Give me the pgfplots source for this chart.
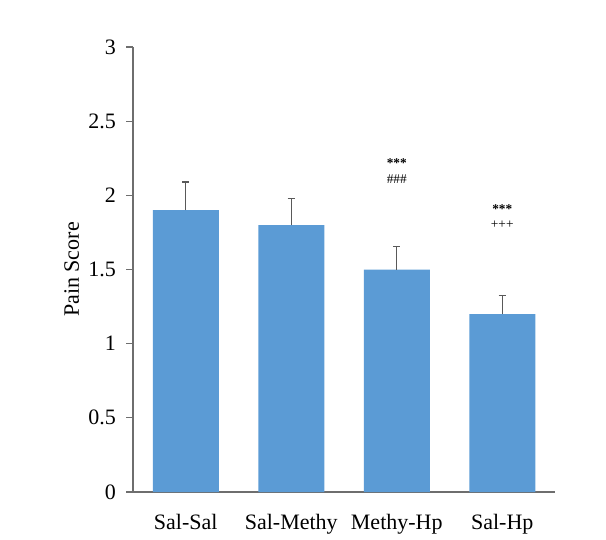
\documentclass[border=0pt]{standalone}
\usepackage{pgfplots}
\pgfplotsset{compat=1.18}
\usepackage{fontspec}
\setmainfont{Liberation Serif}
\definecolor{barblue}{HTML}{5B9BD5}
\definecolor{axisgray}{HTML}{6E6E6E}
\definecolor{errgray}{HTML}{595959}
\begin{document}
\begin{tikzpicture}
    % 1 px of the reference = 0.75pt
    \path[use as bounding box] (0,0) rectangle (454.5pt,404.25pt);
    \begin{axis}[
            at={(99.75pt,35.25pt)},
            anchor=south west,
            scale only axis,
            width=316.5pt,
            height=333.75pt,
            ybar,
            bar width=49.5pt,
            xmin=-0.5, xmax=3.5,
            ymin=0, ymax=3,
            xtick=data,
            xticklabels={Sal-Sal, Sal-Methy, Methy-Hp, Sal-Hp},
            ytick={0,0.5,...,3},
            axis x line=bottom,
            axis y line=left,
            axis line style={-, axisgray, line width=0.8pt},
            x axis line style={shorten <=-4.5pt},
            x tick style={draw=none},
            y tick style={axisgray, line width=0.8pt},
            tick align=outside,
            major tick length=5.25pt,
            font=\fontsize{16.5}{19}\selectfont,
            /pgf/number format/assume math mode=true,
            yticklabel style={font=\fontsize{16.5}{19}\selectfont, xshift=-4pt},
            xticklabel style={font=\fontsize{16.5}{19}\selectfont, yshift=-8pt},
            ylabel={Pain Score},
            ylabel style={at={(axis description cs:-0.145,0.5)}, anchor=center, font=\fontsize{16.5}{19}\selectfont},
            error bars/y dir=plus,
            error bars/y explicit,
            error bars/error bar style={errgray, line width=1.1pt},
            error bars/error mark options={rotate=90, errgray, mark size=2.8pt, line width=1.1pt},
        ]
        \addplot[fill=barblue, draw=none] coordinates {
                (0,1.90) +- (0,0.19)
                (1,1.80) +- (0,0.18)
                (2,1.50) +- (0,0.155)
                (3,1.20) +- (0,0.125)
            };
        \node[font=\fontsize{10}{11}\selectfont\bfseries] at (axis cs:2,2.215) {***};
        \node[font=\fontsize{10}{11}\selectfont] at (axis cs:2,2.11) {\#\#\#};
        \node[font=\fontsize{10}{11}\selectfont\bfseries] at (axis cs:3,1.91) {***};
        \node[font=\fontsize{10}{11}\selectfont] at (axis cs:3,1.805) {+++};
    \end{axis}
\end{tikzpicture}
\end{document}
